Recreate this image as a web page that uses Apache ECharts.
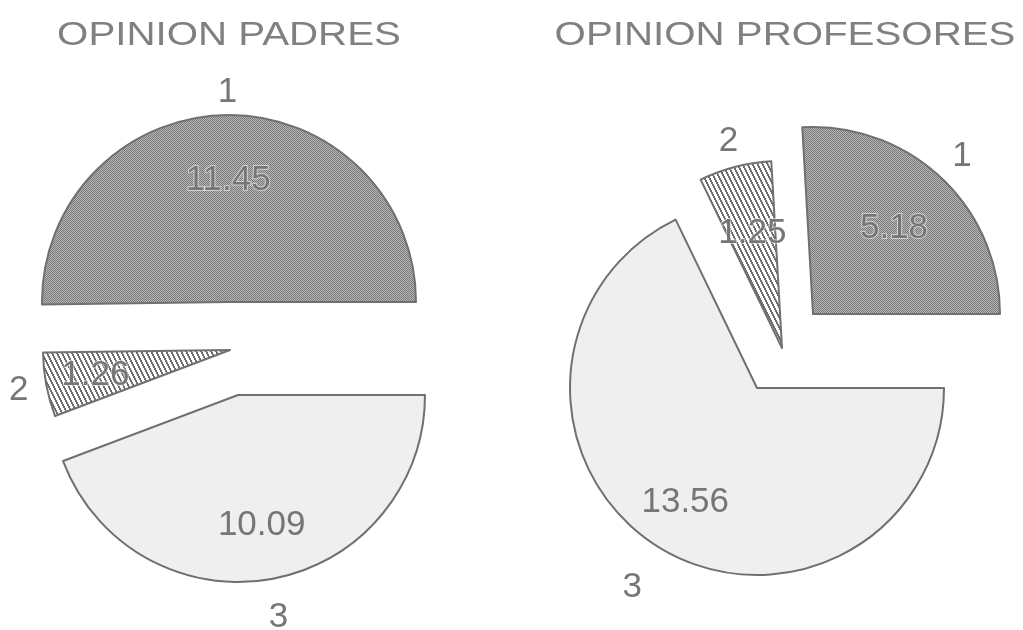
<!DOCTYPE html>
<html><head><meta charset="utf-8">
<script src="https://cdn.jsdelivr.net/npm/echarts@6/dist/echarts.min.js"></script>
<style>html,body{margin:0;padding:0;background:#fff}#c{width:1023px;height:630px}</style>
</head><body><div id="c"></div>
<script>
// ---- data ----
const titles = ['OPINION PADRES', 'OPINION PROFESORES'];
const padresNames = ['1', '2', '3'];
const padresValues = [11.45, 1.26, 10.09];
const profesoresNames = ['1', '2', '3'];
const profesoresValues = [5.18, 1.25, 13.56];

// ---- layout (pixels) ----
const R = 187;
const layout = [
  { titleX: 229, centers: [[229, 302], [230, 350], [238, 395]], valueDist: [119, 134, 129], nameDist: [207, 212, 223] },
  { titleX: 785, centers: [[813, 314], [782, 348], [757, 388]], valueDist: [115, 115, 132], nameDist: [214, 210, 232] }
];
const TXT = '#767676';
const FONT = '"Liberation Sans", Arial, sans-serif';

function makeChecker() {
  const c = document.createElement('canvas'); c.width = 2; c.height = 2;
  const g = c.getContext('2d');
  g.fillStyle = '#b6b6b6'; g.fillRect(0, 0, 2, 2);
  g.fillStyle = '#7a7a7a'; g.fillRect(0, 0, 1, 1); g.fillRect(1, 1, 1, 1);
  return c;
}
function makeHatch() {
  const c = document.createElement('canvas'); c.width = 5; c.height = 10;
  const g = c.getContext('2d');
  g.fillStyle = '#ffffff'; g.fillRect(0, 0, 5, 10);
  g.fillStyle = '#6e6e6e';
  for (let y = 0; y < 10; y++) { const x = Math.floor(y / 2); g.fillRect(x, y, 1, 1); g.fillRect((x + 1) % 5, y, 1, 1); }
  return c;
}
const fills = [
  { image: makeChecker(), repeat: 'repeat' },
  { image: makeHatch(), repeat: 'repeat' },
  '#efefef'
];
const hidden = { color: 'rgba(0,0,0,0)', borderWidth: 0 };

function buildPie(names, values, L) {
  const out = [];
  const base = { type: 'pie', silent: true, clockwise: false, startAngle: 0, avoidLabelOverlap: false,
    labelLine: { show: false }, emphasis: { disabled: true } };
  for (let k = 0; k < values.length; k++) {
    out.push(Object.assign({}, base, {
      center: L.centers[k], radius: [0, R], label: { show: false },
      data: names.map((n, i) => ({ name: n, value: values[i],
        itemStyle: i === k ? { color: fills[k], borderColor: '#707070', borderWidth: 2 } : hidden }))
    }));
    const vd = L.valueDist[k];
    out.push(Object.assign({}, base, {
      center: L.centers[k], radius: [vd - 1, vd + 1], itemStyle: hidden,
      label: { position: 'inside', formatter: '{c}', fontSize: 35, fontFamily: FONT, color: TXT,
        textBorderColor: k < 2 ? 'rgba(255,255,255,0.55)' : 'rgba(0,0,0,0)', textBorderWidth: k < 2 ? 2 : 0 },
      data: names.map((n, i) => ({ name: n, value: values[i], label: { show: i === k } }))
    }));
    const nd = L.nameDist[k];
    out.push(Object.assign({}, base, {
      center: L.centers[k], radius: [nd - 1, nd + 1], itemStyle: hidden,
      label: { position: 'inside', formatter: '{b}', fontSize: 35, fontFamily: FONT, color: TXT },
      data: names.map((n, i) => ({ name: n, value: values[i], label: { show: i === k } }))
    }));
  }
  return out;
}

const chart = echarts.init(document.getElementById('c'), null, { renderer: 'canvas' });
chart.setOption({
  animation: false,
  backgroundColor: '#ffffff',
  graphic: layout.map((L, j) => ({
    type: 'text', x: L.titleX, y: 36, scaleX: 1.22, silent: true,
    style: { text: titles[j], fontSize: 33, fontFamily: FONT, fill: '#808080', align: 'center', verticalAlign: 'middle' }
  })),
  series: [].concat(
    buildPie(padresNames, padresValues, layout[0]),
    buildPie(profesoresNames, profesoresValues, layout[1])
  )
});
</script></body></html>
